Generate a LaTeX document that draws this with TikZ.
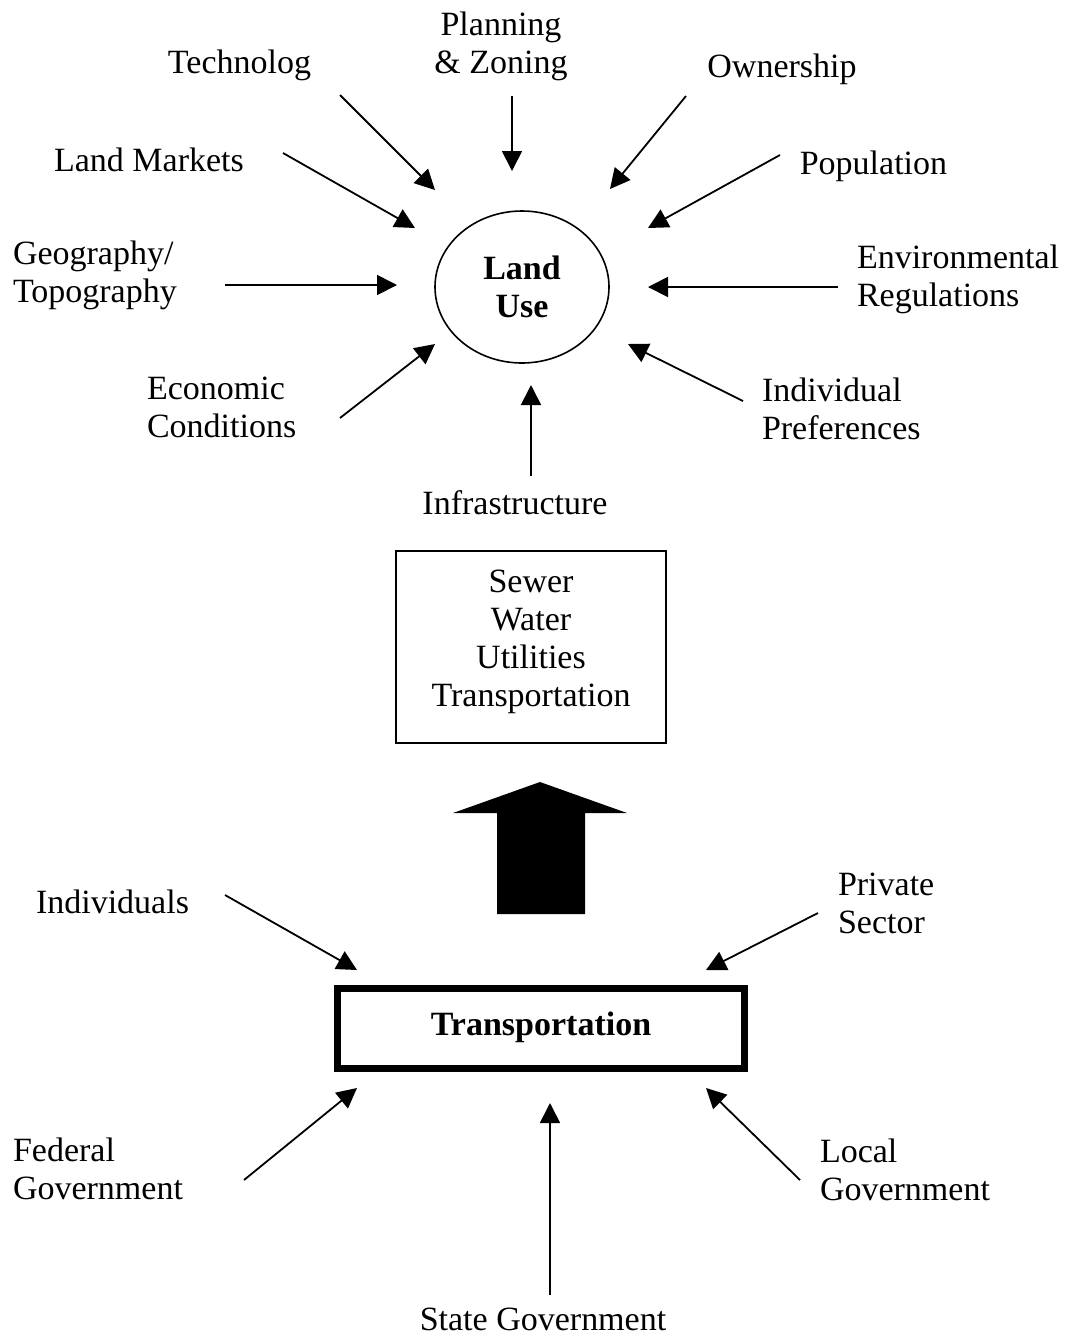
\documentclass[tikz,border=0pt]{standalone}
\usepackage{fontspec}
\setmainfont{Liberation Serif}
\usetikzlibrary{arrows.meta,shapes.geometric}
\begin{document}
\begin{tikzpicture}[x=0.5pt,y=-0.5pt,
  lbl/.style={font=\fontsize{17}{19}\selectfont, inner sep=0pt, outer sep=0pt},
  % multi-line labels are placed by the baseline of their last line
  lblc/.style={lbl, anchor=base, align=center},
  lbll/.style={lbl, anchor=base west, align=left},
  feed/.style={line width=0.9pt, -{Triangle[length=10pt,width=10pt]}},
  hub/.style={draw, line width=0.8pt, font=\fontsize{17}{19}\selectfont\bfseries, align=center, inner sep=0pt}
]
\useasboundingbox (0,0) rectangle (1081,1341);

% --- central node and its influences ---
\node[hub, ellipse, minimum width=87pt, minimum height=76pt] (landuse) at (522,287) {Land\\Use};

\node[lblc] (tech) at (239.5,73) {Technolog};
\node[lblc] (plan) at (501,73) {Planning\\\& Zoning};
\node[lblc] (own) at (782,77) {Ownership};
\node[lblc] (mkt) at (149,171) {Land Markets};
\node[lblc] (pop) at (873.5,174) {Population};
\node[lbll] (geo) at (13,302) {Geography/\\Topography};
\node[lbll] (env) at (857,306) {Environmental\\Regulations};
\node[lbll] (econ) at (147,437) {Economic\\Conditions};
\node[lbll] (pref) at (762,439) {Individual\\Preferences};
\node[lblc] (infra) at (515,514) {Infrastructure};

\coordinate (tech-a) at (340,95);   \coordinate (tech-b) at (435,190);
\coordinate (plan-a) at (512,96);   \coordinate (plan-b) at (512,171);
\coordinate (own-a) at (686,96);    \coordinate (own-b) at (610,189);
\coordinate (mkt-a) at (283,153);   \coordinate (mkt-b) at (415,228);
\coordinate (pop-a) at (780,155);   \coordinate (pop-b) at (648,228);
\coordinate (geo-a) at (225,285);   \coordinate (geo-b) at (397,285);
\coordinate (env-a) at (838,287);   \coordinate (env-b) at (648,287);
\coordinate (econ-a) at (340,418);  \coordinate (econ-b) at (435,344);
\coordinate (pref-a) at (743,401);  \coordinate (pref-b) at (628,344);
\coordinate (infra-a) at (531,476); \coordinate (infra-b) at (531,385);

\foreach \k in {tech,plan,own,mkt,pop,geo,env,econ,pref,infra}
  \draw[feed] (\k-a) -- (\k-b);

% --- infrastructure box ---
\node[draw, line width=0.8pt, lbl, align=center, minimum width=135pt, minimum height=96pt] (infbox) at (531,647)
  {Sewer\\Water\\Utilities\\Transportation\\[-10pt]\mbox{}};

% --- broad upward arrow ---
\fill (540,782) -- (627,813) -- (585,813) -- (585,914) -- (497,914) -- (497,813) -- (453,813) -- cycle;

% --- transportation and its actors ---
\node[hub, rectangle, line width=3.5pt, minimum width=203.5pt, minimum height=40pt] (trans) at (541,1028.5) {Transportation\\[-14pt]\mbox{}};

\node[lblc] (indiv) at (112.5,913) {Individuals};
\node[lbll] (priv) at (838,933) {Private\\Sector};
\node[lbll] (fed) at (13,1199) {Federal\\Government};
\node[lbll] (local) at (820,1200) {Local\\Government};
\node[lblc] (state) at (543,1330) {State Government};

\coordinate (indiv-a) at (225,895);  \coordinate (indiv-b) at (357,970);
\coordinate (priv-a) at (818,913);   \coordinate (priv-b) at (706,970);
\coordinate (fed-a) at (244,1180);   \coordinate (fed-b) at (357,1088);
\coordinate (state-a) at (550,1295); \coordinate (state-b) at (550,1103);
\coordinate (local-a) at (800,1180); \coordinate (local-b) at (706,1088);

\foreach \k in {indiv,priv,fed,state,local}
  \draw[feed] (\k-a) -- (\k-b);
\end{tikzpicture}
\end{document}
